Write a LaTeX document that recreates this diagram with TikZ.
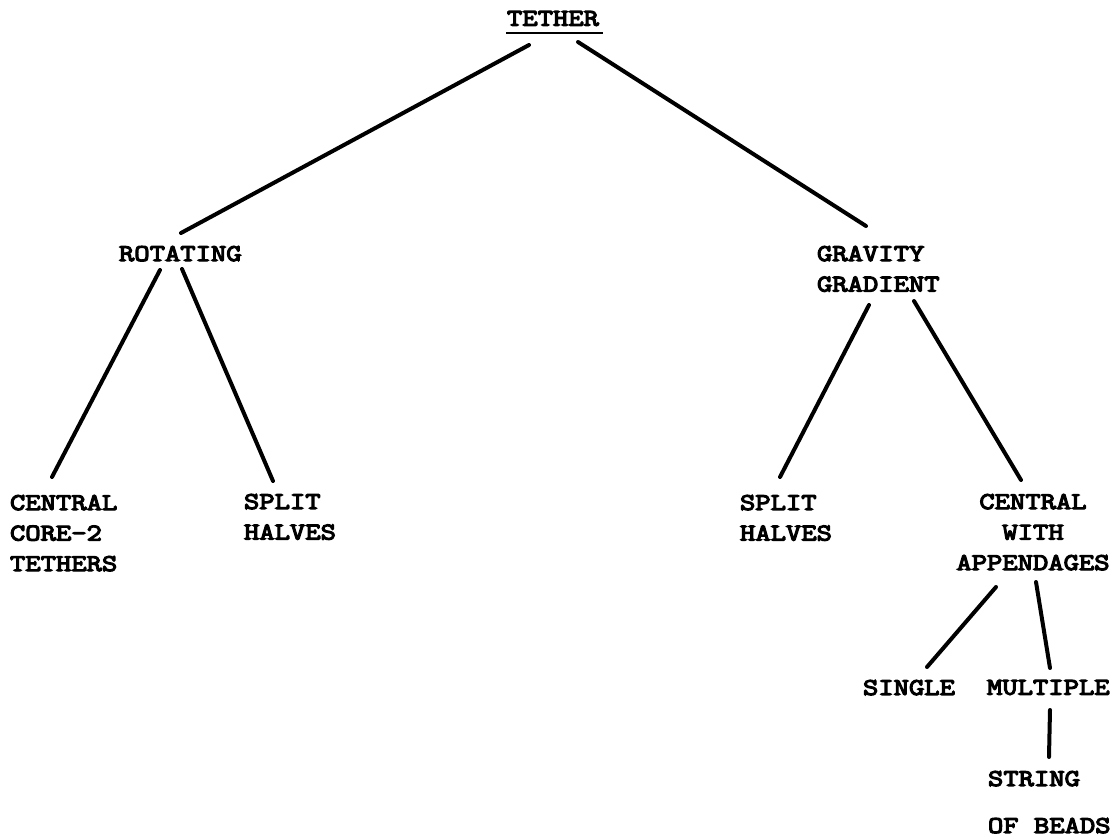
\documentclass[tikz,border=0pt]{standalone}
\usepackage{fontspec}
\newfontfamily\twfont[FakeStretch=1.24,FakeBold=5]{Latin Modern Mono}
\usetikzlibrary{calc}
\tikzset{
  lbl/.style={inner sep=0pt, outer sep=0pt, anchor=north west, align=left,
    font=\twfont\fontsize{24}{30.5}\selectfont},
  link/.style={line width=4pt, line cap=round}
}
\begin{document}
\begin{tikzpicture}[x=1pt,y=-1pt]
\useasboundingbox[fill=white] (0,0) rectangle (1120,839);
% nodes
\node[lbl] (tether) at (507,11) {TETHER};
\node[lbl] (rot) at (119,246) {ROTATING};
\node[lbl] (grav) at (817,246) {GRAVITY\\GRADIENT};
\node[lbl] (core) at (10,495) {CENTRAL\\CORE-2\\TETHERS};
\node[lbl] (splitA) at (244,494) {SPLIT\\HALVES};
\node[lbl] (splitB) at (740,495) {SPLIT\\HALVES};
\node[lbl, anchor=north, align=center] (cwa) at (1033,494) {CENTRAL\\WITH\\APPENDAGES};
\node[lbl] (single) at (863,680) {SINGLE};
\node[lbl] (multi) at (987,680) {MULTIPLE};
\node[lbl] (string) at (988,771) {STRING\\[16.5pt]OF BEADS};
% underline
\draw[line width=2.8pt] ($(tether.north west)+(-1,22)$) -- ($(tether.north west)+(96,22)$);
% connectors
\draw[link] ($(tether.north west)+(22,34)$) -- ($(rot.north west)+(62,-13)$);
\draw[link] ($(tether.north west)+(71,31)$) -- ($(grav.north west)+(49,-20)$);
\draw[link] ($(rot.north west)+(41,24)$) -- ($(core.north west)+(42,-18)$);
\draw[link] ($(rot.north west)+(63,23)$) -- ($(splitA.north west)+(29,-13)$);
\draw[link] ($(grav.north west)+(52,59)$) -- ($(splitB.north west)+(40,-18)$);
\draw[link] ($(grav.north west)+(97,55)$) -- ($(cwa.north)+(-12,-14)$);
\draw[link] ($(cwa.north)+(-37,93)$) -- ($(single.north west)+(64,-13)$);
\draw[link] ($(cwa.north)+(3,88)$) -- ($(multi.north west)+(63,-12)$);
\draw[link] ($(multi.north west)+(63,30)$) -- ($(string.north west)+(61,-14)$);
\end{tikzpicture}
\end{document}
